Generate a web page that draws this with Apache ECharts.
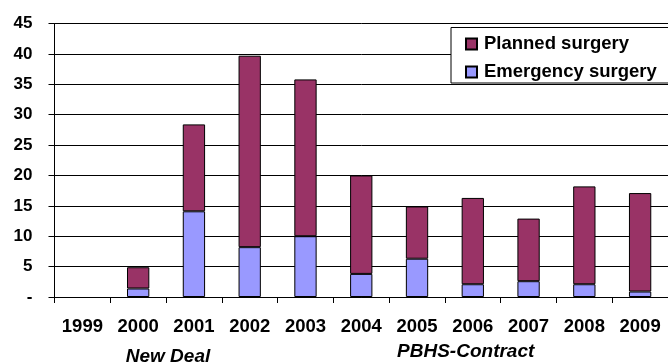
<!DOCTYPE html>
<html>
<head>
<meta charset="utf-8">
<script src="https://cdn.jsdelivr.net/npm/echarts@6/dist/echarts.min.js"></script>
<style>
  html, body { margin: 0; padding: 0; background: #fff; }
  #chart { width: 668px; height: 363px; }
</style>
</head>
<body>
<div id="chart"></div>
<script>
// Surgery counts per year, stacked: emergency at the bottom, planned on top
const years = ['1999', '2000', '2001', '2002', '2003', '2004', '2005', '2006', '2007', '2008', '2009'];
const emergencySurgery = [null, 1.4, 14.1, 8.2, 10.0, 3.8, 6.3, 2.1, 2.6, 2.1, 0.9];
const plannedSurgery = [null, 3.5, 14.3, 31.5, 25.8, 16.2, 8.6, 14.2, 10.3, 16.1, 16.2];
const periodLabels = ['New Deal', 'PBHS-Contract'];

const FONT = '"Liberation Sans", Arial, sans-serif';

const chart = echarts.init(document.getElementById('chart'), null, { renderer: 'canvas' });

chart.setOption({
  animation: false,
  backgroundColor: '#ffffff',
  grid: { left: 54.5, top: 23.5, width: 620.4, height: 273.5, containLabel: false },
  legend: {
    orient: 'vertical',
    left: 465,
    top: 34.5,
    padding: 0,
    itemWidth: 11,
    itemHeight: 11,
    itemGap: 9,
    icon: 'rect',
    data: ['Planned surgery', 'Emergency surgery'],
    textStyle: { fontFamily: FONT, fontWeight: 'bold', fontSize: 18.5, color: '#000', padding: [0, 0, 0, 2] },
    z: 10
  },
  xAxis: {
    type: 'category',
    data: years,
    axisLine: { show: true, lineStyle: { color: '#000', width: 1 } },
    axisTick: { show: true, interval: 0, length: 6, lineStyle: { color: '#000', width: 1 } },
    axisLabel: {
      interval: 0, margin: 20,
      fontFamily: FONT, fontWeight: 'bold', fontSize: 18.5, color: '#000'
    }
  },
  yAxis: {
    type: 'value',
    min: 0, max: 45, interval: 5,
    axisLine: { show: true, lineStyle: { color: '#000', width: 1 } },
    axisTick: { show: true, length: 6, lineStyle: { color: '#000', width: 1 } },
    axisLabel: {
      margin: 22,
      fontFamily: FONT, fontWeight: 'bold', fontSize: 17, color: '#000',
      formatter: v => (v === 0 ? '-' : String(v))
    },
    splitLine: { show: true, lineStyle: { color: '#000', width: 1 } }
  },
  series: [
    {
      name: 'Emergency surgery',
      type: 'bar',
      stack: 'surgery',
      barWidth: '40%',
      data: emergencySurgery,
      itemStyle: { color: '#9999FF', borderColor: '#000', borderWidth: 1 }
    },
    {
      name: 'Planned surgery',
      type: 'bar',
      stack: 'surgery',
      barWidth: '40%',
      data: plannedSurgery,
      itemStyle: { color: '#993366', borderColor: '#000', borderWidth: 1 }
    }
  ],
  graphic: [
    {
      // legend frame, white fill hides the gridlines behind it
      type: 'rect',
      z: 5,
      shape: { x: 451, y: 27.5, width: 220, height: 55.5 },
      style: { fill: '#fff', stroke: '#000', lineWidth: 1 }
    },
    {
      type: 'text',
      z: 5,
      x: 168, y: 357,
      style: {
        text: periodLabels[0], fill: '#000',
        font: 'italic bold 19px ' + FONT,
        textAlign: 'center', textVerticalAlign: 'middle'
      }
    },
    {
      type: 'text',
      z: 5,
      x: 465.7, y: 351.5,
      style: {
        text: periodLabels[1], fill: '#000',
        font: 'italic bold 19px ' + FONT,
        textAlign: 'center', textVerticalAlign: 'middle'
      }
    }
  ]
});
</script>
</body>
</html>
